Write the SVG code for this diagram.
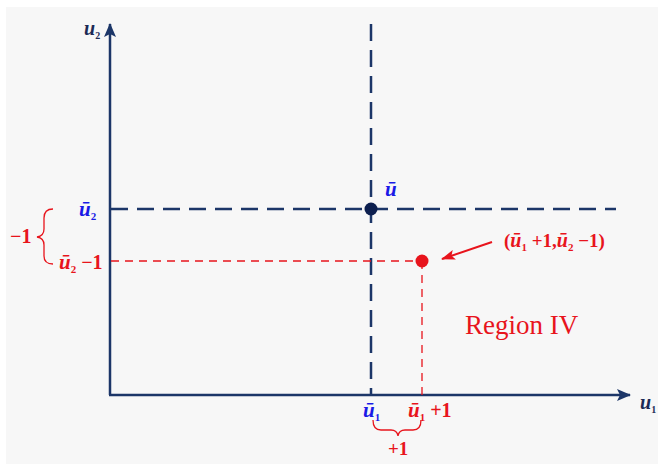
<svg xmlns="http://www.w3.org/2000/svg" width="658" height="464" viewBox="0 0 658 464">
<defs>
<marker id="ahr" markerWidth="14" markerHeight="10" refX="13" refY="5" orient="auto" markerUnits="userSpaceOnUse"><path d="M0,0 L14,5 L0,10 L3,5 Z" fill="#e8141c"/></marker>
<marker id="ahb" markerWidth="14" markerHeight="12" refX="13" refY="6" orient="auto" markerUnits="userSpaceOnUse"><path d="M0,0 L14,6 L0,12 L3,6 Z" fill="#1c3668"/></marker>
</defs>
<style>
.ax{stroke:#1c3668;stroke-width:2.5;fill:none}
.nd{stroke:#1c3668;stroke-width:2.5;fill:none;stroke-dasharray:17 9}
.rd{stroke:#e8141c;stroke-width:1.3;fill:none;stroke-dasharray:8 6}
.br{stroke:#e8141c;stroke-width:1.3;fill:none}
.m{font-family:"Liberation Serif",serif;font-style:italic;font-weight:bold}
.r{font-family:"Liberation Serif",serif;font-weight:bold;fill:#e8141c}
.blue{fill:#1a1ae6}
.dk{fill:#1c2a55}
</style>
<rect x="6" y="7" width="652" height="457" fill="#f7f7f7"/>
<g id="connectors">
<line class="ax" x1="110" y1="395" x2="110" y2="24" marker-end="url(#ahb)"/>
<line class="ax" x1="109" y1="395" x2="630" y2="395" marker-end="url(#ahb)"/>
<line class="nd" x1="371" y1="24" x2="371" y2="395"/>
<line class="nd" x1="111" y1="209" x2="616" y2="209"/>
<line class="rd" x1="111" y1="261" x2="422" y2="261"/>
<line class="rd" x1="422" y1="261" x2="422" y2="395"/>
<line x1="492" y1="242" x2="442" y2="259" stroke="#e8141c" stroke-width="2" marker-end="url(#ahr)"/>
<path class="br" d="M53,209 Q44,209 44,218 L44,229 Q44,236 37,237 Q44,238 44,245 L44,256 Q44,264 53,264"/>
<path class="br" d="M373,420 Q373,430 381,430 L391,430 Q397,430 398,436 Q399,430 405,430 L413,430 Q421,430 421,420"/>
</g>
<g id="u-bar">
<circle cx="371" cy="209" r="6.5" fill="#0d1f4f"/>
<text class="m blue" x="385" y="196" font-size="21">ū</text>
</g>
<g id="point">
<circle cx="422" cy="261" r="6.5" fill="#e8141c"/>
<text class="r" x="504" y="247" font-size="19"><tspan>(</tspan><tspan font-style="italic" font-size="20">ū</tspan><tspan font-size="11" dy="4">1</tspan><tspan dy="-4"> +1,</tspan><tspan font-style="italic" font-size="20">ū</tspan><tspan font-size="11" dy="4">2</tspan><tspan dy="-4"> −1)</tspan></text>
</g>
<g id="labels">
<text class="m dk" x="84" y="35" font-size="20">u<tspan font-size="10" dy="4" font-style="normal">2</tspan></text>
<text class="m dk" x="640" y="409" font-size="20">u<tspan font-size="10" dy="4" font-style="normal">1</tspan></text>
<text class="m blue" x="79" y="216" font-size="21">ū<tspan font-size="11" dy="4" font-style="normal">2</tspan></text>
<text class="r" x="10" y="243" font-size="20">−1</text>
<text class="r" x="59" y="269" font-size="20"><tspan font-style="italic" font-size="21">ū</tspan><tspan font-size="11" dy="4">2</tspan><tspan dy="-4"> −1</tspan></text>
<text class="m blue" x="363" y="417" font-size="21">ū<tspan font-size="11" dy="4" font-style="normal">1</tspan></text>
<text class="r" x="408" y="417" font-size="20"><tspan font-style="italic" font-size="21">ū</tspan><tspan font-size="11" dy="4">1</tspan><tspan dy="-4"> +1</tspan></text>
<text class="r" x="388" y="455" font-size="19">+1</text>
<text x="465" y="334" font-family="Liberation Serif, serif" font-size="27" fill="#e8141c">Region IV</text>
</g>
</svg>
